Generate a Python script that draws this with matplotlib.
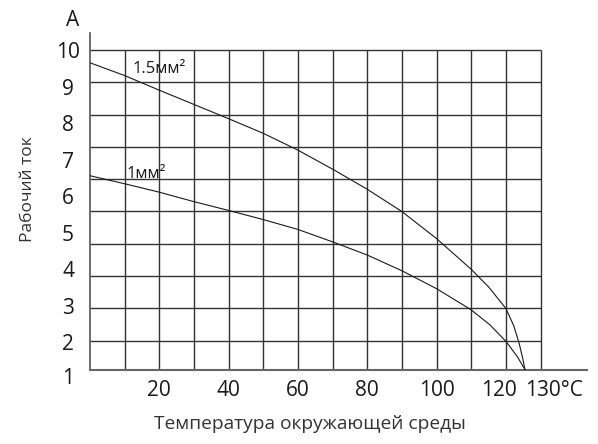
import numpy as np
import matplotlib.pyplot as plt
from matplotlib.transforms import ScaledTranslation

plt.rcParams['font.family'] = ['Open Sans', 'DejaVu Sans']

# Рабочий ток (шкала подписей) в зависимости от температуры
temp_15 = [0, 10, 20, 30, 40, 50, 60, 70, 80, 90, 100, 110, 115, 120, 122.3, 123.9, 124.9, 125.5]
amp_15 = [9.65, 9.30, 8.90, 8.51, 8.12, 7.72, 7.26, 6.74, 6.19, 5.58, 4.84, 4.00, 3.52, 2.93, 2.45, 1.95, 1.55, 1.26]

temp_1 = [0, 10, 20, 30, 40, 50, 60, 70, 80, 90, 100, 110, 115.4, 120.1, 123.3, 125.5]
amp_1 = [6.56, 6.34, 6.11, 5.85, 5.61, 5.36, 5.09, 4.75, 4.39, 3.96, 3.47, 2.89, 2.48, 2.02, 1.61, 1.26]

y_ticks = [2, 3, 4, 5, 6, 7, 8, 9, 10]
x_ticks = [20, 40, 60, 80, 100, 120, 130]
x_labels = ['20', '40', '60', '80', '100', '120', '130°C']

Y_BOT, Y_TOP = 1.258, 10.465
GRID_STEP = 0.8837

fig = plt.figure(figsize=(5.98, 4.44), dpi=100)
ax = fig.add_axes([90 / 598, 1 - 369.5 / 444, 496.6 / 598, 336.5 / 444])
ax.set_xlim(0, 143.3)
ax.set_ylim(Y_BOT, Y_TOP)

# сетка
grid_y = 10 - np.arange(10) * GRID_STEP
ax.hlines(grid_y, 0, 130, color='#333333', lw=1.0, zorder=1)
ax.vlines(np.arange(10, 131, 10), Y_BOT, 10, color='#333333', lw=1.0, zorder=1)

ax.plot(temp_15, amp_15, color='#1a1a1a', lw=0.8, zorder=3)
ax.plot(temp_1, amp_1, color='#1a1a1a', lw=0.8, zorder=3)

ax.text(12.3, 9.36, '1.5мм²', fontsize=12, va='baseline', color='#1a1a1a')
ax.text(10.4, 6.51, '1мм²', fontsize=12, va='baseline', color='#1a1a1a')

for s in ['top', 'right']:
    ax.spines[s].set_visible(False)
ax.spines['left'].set_color('#555555')
ax.spines['left'].set_linewidth(1.2)
ax.spines['bottom'].set_color('#666666')
ax.spines['bottom'].set_linewidth(1.5)

ax.set_yticks(y_ticks)
ax.set_xticks(x_ticks)
ax.set_xticklabels(x_labels)
ax.tick_params(length=0, labelsize=15, colors='#1a1a1a')
ax.tick_params(axis='y', pad=15.8)
ax.tick_params(axis='x', pad=7.5)
for t in ax.get_yticklabels():
    t.set_horizontalalignment('center')

# сдвиг подписей 120 и 130°C как в оригинале
xl = ax.get_xticklabels()
xl[-2].set_transform(xl[-2].get_transform() + ScaledTranslation(-7 / 100, 0, fig.dpi_scale_trans))
xl[-1].set_transform(xl[-1].get_transform() + ScaledTranslation(13 / 100, 0, fig.dpi_scale_trans))

ax.text(-22 / 496.6, 1, '1', transform=ax.get_yaxis_transform(), ha='center', va='center',
        fontsize=15, color='#1a1a1a', clip_on=False)

fig.text(73 / 598, 1 - 21 / 444, 'A', ha='center', va='center', fontsize=15, color='#1a1a1a')

fig.text(310 / 598, 1 - 424 / 444, 'Температура окружающей среды', ha='center', va='center',
         fontsize=13.8, color='#333333')
fig.text(28 / 598, 1 - 189 / 444, 'Рабочий ток', rotation=90, ha='center', va='center',
         fontsize=12.5, color='#333333')

fig.savefig('out.png', dpi=100)
